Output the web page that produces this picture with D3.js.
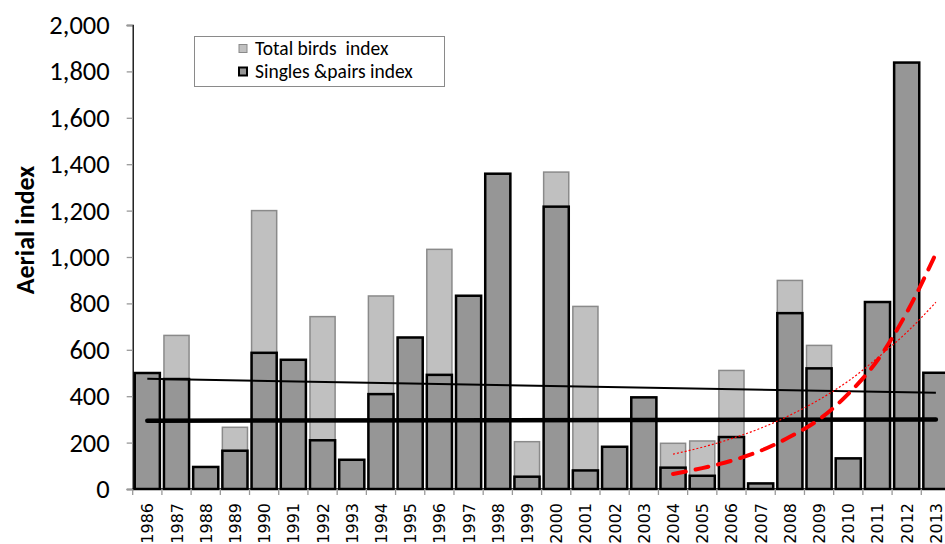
<!DOCTYPE html>
<html>
<head>
<meta charset="utf-8">
<script src="https://cdn.jsdelivr.net/npm/d3@7"></script>
<style>
  html, body { margin: 0; padding: 0; background: #fff; }
  svg { display: block; font-family: Carlito, Lato, "Liberation Sans", sans-serif; }
  .xlab { font-family: "DejaVu Sans", Verdana, sans-serif; }
</style>
</head>
<body>
<svg id="chart" width="945" height="544"></svg>
<script>
// ---- data ----
const years = ["1986","1987","1988","1989","1990","1991","1992","1993","1994","1995","1996","1997","1998","1999",
               "2000","2001","2002","2003","2004","2005","2006","2007","2008","2009","2010","2011","2012","2013"];
const totalBirds = [500,662,95,266,1200,557,743,126,832,653,1033,833,1359,204,
                    1366,787,182,395,197,207,511,24,899,619,132,806,1838,501];
const singlesPairs = [500,474,95,165,587,557,210,126,409,653,492,833,1359,53,
                      1217,80,182,395,92,57,224,24,758,520,132,806,1838,501];
const yTicks = [0,200,400,600,800,1000,1200,1400,1600,1800,2000];
// trend lines
const trendYearsLinear = ["1986","2013"];
const trendThin = [475, 415];
const trendThick = [294, 300];
const trendYearsExp = ["2004","2005","2006","2007","2008","2009","2010","2011","2012","2013"];
const expSingles = [65, 90, 122, 165, 225, 300, 410, 555, 760, 1015];
const expTotal = [150, 180, 217, 262, 318, 385, 465, 565, 675, 805];
const legendLabels = ["Total birds  index", "Singles &pairs index"];

// ---- layout ----
const svg = d3.select("#chart");
const x = d3.scaleBand().domain(years).range([132.7, 950.5]).paddingInner(0.14).paddingOuter(0.07);
const y = d3.scaleLinear().domain([0, 2000]).range([489, 25]);
const axisX = 132.7;

// y axis
const yAxis = d3.axisLeft(y).tickValues(yTicks).tickSize(6).tickPadding(17)
  .tickFormat(d3.format(","));
const gy = svg.append("g").attr("transform", `translate(${axisX},0)`).call(yAxis);
gy.select(".domain").attr("stroke", "#000").attr("stroke-width", 1.3);
gy.selectAll(".tick line").attr("stroke", "#999").attr("stroke-width", 1.3);
gy.selectAll(".tick text").attr("font-size", 26.5).attr("fill", "#000")
  .attr("font-family", "Carlito, Lato, sans-serif");

// bars: total (behind)
svg.append("g").selectAll("rect").data(years).join("rect")
  .attr("x", d => x(d))
  .attr("width", x.bandwidth())
  .attr("y", (d, i) => y(totalBirds[i]))
  .attr("height", (d, i) => y(0) - y(totalBirds[i]))
  .attr("fill", "#c0c0c0").attr("stroke", "#8a8a8a").attr("stroke-width", 1.5);

// bars: singles & pairs
svg.append("g").selectAll("rect").data(years).join("rect")
  .attr("x", d => x(d))
  .attr("width", x.bandwidth())
  .attr("y", (d, i) => y(singlesPairs[i]))
  .attr("height", (d, i) => y(0) - y(singlesPairs[i]))
  .attr("fill", "#969696").attr("stroke", "#000").attr("stroke-width", 2.5);

// x axis
const gx = svg.append("g").attr("transform", `translate(0,${y(0)})`);
gx.append("line").attr("x1", axisX).attr("x2", 945).attr("y1", 0).attr("y2", 0)
  .attr("stroke", "#000").attr("stroke-width", 1.5);
const boundaries = years.map(d => x(d) - x.step() * x.paddingInner() / 2);
gx.selectAll("line.tk").data(boundaries).join("line").attr("class", "tk")
  .attr("x1", d => d).attr("x2", d => d).attr("y1", 0).attr("y2", 6)
  .attr("stroke", "#999").attr("stroke-width", 1.3);
gx.selectAll("text").data(years).join("text")
  .attr("class", "xlab")
  .attr("transform", d => `translate(${x(d) + x.bandwidth() / 2 + 6},14) rotate(-90)`)
  .attr("text-anchor", "end")
  .attr("font-size", 16)
  .attr("font-family", "'DejaVu Sans', Verdana, sans-serif")
  .attr("fill", "#000")
  .text(d => d);

// linear trend lines
const cx = d => x(d) + x.bandwidth() / 2;
const lin = d3.line().x(d => cx(d[0])).y(d => y(d[1]));
svg.append("path").datum(trendYearsLinear.map((d, i) => [d, trendThin[i]]))
  .attr("d", lin).attr("fill", "none").attr("stroke", "#000").attr("stroke-width", 2);
svg.append("path").datum(trendYearsLinear.map((d, i) => [d, trendThick[i]]))
  .attr("d", lin).attr("fill", "none").attr("stroke", "#000").attr("stroke-width", 4.5)
  .attr("stroke-linecap", "round");

// exponential trend curves
const curve = d3.line().x(d => cx(d[0])).y(d => y(d[1])).curve(d3.curveMonotoneX);
svg.append("path").datum(trendYearsExp.map((d, i) => [d, expTotal[i]]))
  .attr("d", curve).attr("fill", "none").attr("stroke", "#ff0000").attr("stroke-width", 1.2)
  .attr("stroke-dasharray", "2,2");
svg.append("path").datum(trendYearsExp.map((d, i) => [d, expSingles[i]]))
  .attr("d", curve).attr("fill", "none").attr("stroke", "#ff0000").attr("stroke-width", 4)
  .attr("stroke-dasharray", "13,10").attr("stroke-linecap", "round");

// y axis title
svg.append("text")
  .attr("transform", "translate(34,230) rotate(-90)")
  .attr("text-anchor", "middle")
  .attr("font-size", 26).attr("font-weight", "bold")
  .text("Aerial index");

// legend
const lg = svg.append("g");
lg.append("rect").attr("x", 194.5).attr("y", 36.5).attr("width", 250).attr("height", 50)
  .attr("fill", "#fff").attr("stroke", "#8a8a8a").attr("stroke-width", 1);
const legendStyles = [
  { fill: "#c0c0c0", stroke: "#8a8a8a", sw: 1 },
  { fill: "#969696", stroke: "#000", sw: 2 }
];
legendLabels.forEach((lab, i) => {
  const cy = 48.5 + i * 23;
  lg.append("rect").attr("x", 239).attr("y", cy - 4).attr("width", 8).attr("height", 8)
    .attr("fill", legendStyles[i].fill).attr("stroke", legendStyles[i].stroke)
    .attr("stroke-width", legendStyles[i].sw);
  lg.append("text").attr("x", 255).attr("y", cy + 6.5)
    .attr("font-size", 19.5).attr("fill", "#000")
    .style("white-space", "pre").attr("xml:space", "preserve")
    .text(lab);
});
</script>
</body>
</html>
